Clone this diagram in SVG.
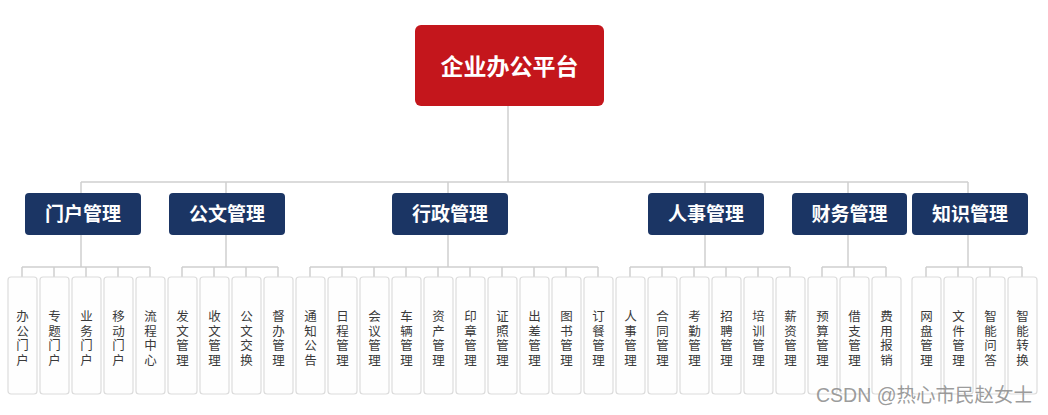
<svg xmlns="http://www.w3.org/2000/svg" width="1048" height="415" viewBox="0 0 1048 415">
<style>
.ln{stroke:#cfcfcf;stroke-width:1.5;fill:none}
.l2 rect{fill:#1b3564}
.l2 text{fill:#fff;font-family:"Noto Sans CJK SC","Noto Sans",sans-serif;font-size:19px;font-weight:bold;text-anchor:middle}
.lf rect{fill:#fefefe;stroke:#dcdcdc;stroke-width:1.2}
.lf text{fill:#3a3a3a;font-family:"Liberation Sans","Noto Sans CJK SC",sans-serif;font-size:12.5px;text-anchor:middle}
</style>
<rect width="1048" height="415" fill="#fff"/>
<g id="connectors" class="ln">
<path d="M508 106V182M81 182H968"/>
<path d="M81 182V193M226 182V193M448 182V193M705 182V193M848 182V193M968 182V193"/>
<path d="M81 235V267M22 267H150M22 267V277M54 267V277M86 267V277M118 267V277M150 267V277"/>
<path d="M226 235V267M182 267H278M182 267V277M214 267V277M246 267V277M278 267V277"/>
<path d="M448 235V267M310 267H598M310 267V277M342 267V277M374 267V277M406 267V277M438 267V277M470 267V277M502 267V277M534 267V277M566 267V277M598 267V277"/>
<path d="M705 235V267M630 267H790M630 267V277M662 267V277M694 267V277M726 267V277M758 267V277M790 267V277"/>
<path d="M848 235V267M822 267H886M822 267V277M854 267V277M886 267V277"/>
<path d="M968 235V267M926 267H1022M926 267V277M958 267V277M990 267V277M1022 267V277"/>
</g>
<g id="root">
<rect x="415" y="25" width="189" height="81" rx="6" fill="#c4161c"/>
<text x="509.5" y="74.5" fill="#fff" font-family="Noto Sans CJK SC,Noto Sans,sans-serif" font-size="23" font-weight="bold" text-anchor="middle">企业办公平台</text>
</g>
<g id="n-menhu" class="l2"><rect x="25" y="193" width="116" height="42" rx="4"/><text x="83" y="221">门户管理</text></g>
<g id="n-gongwen" class="l2"><rect x="169" y="193" width="116" height="42" rx="4"/><text x="227" y="221">公文管理</text></g>
<g id="n-xingzheng" class="l2"><rect x="392" y="193" width="116" height="42" rx="4"/><text x="450" y="221">行政管理</text></g>
<g id="n-renshi" class="l2"><rect x="648" y="193" width="116" height="42" rx="4"/><text x="706" y="221">人事管理</text></g>
<g id="n-caiwu" class="l2"><rect x="792" y="193" width="115" height="42" rx="4"/><text x="849.5" y="221">财务管理</text></g>
<g id="n-zhishi" class="l2"><rect x="912" y="193" width="116" height="42" rx="4"/><text x="970" y="221">知识管理</text></g>

<g id="leaf-1" class="lf"><rect x="8" y="277" width="29" height="117" rx="3"/><text x="22.5" y="321"><tspan x="22.5">办</tspan><tspan x="22.5" dy="14.5">公</tspan><tspan x="22.5" dy="14.5">门</tspan><tspan x="22.5" dy="14.5">户</tspan></text></g>
<g id="leaf-2" class="lf"><rect x="40" y="277" width="29" height="117" rx="3"/><text x="54.5" y="321"><tspan x="54.5">专</tspan><tspan x="54.5" dy="14.5">题</tspan><tspan x="54.5" dy="14.5">门</tspan><tspan x="54.5" dy="14.5">户</tspan></text></g>
<g id="leaf-3" class="lf"><rect x="72" y="277" width="29" height="117" rx="3"/><text x="86.5" y="321"><tspan x="86.5">业</tspan><tspan x="86.5" dy="14.5">务</tspan><tspan x="86.5" dy="14.5">门</tspan><tspan x="86.5" dy="14.5">户</tspan></text></g>
<g id="leaf-4" class="lf"><rect x="104" y="277" width="29" height="117" rx="3"/><text x="118.5" y="321"><tspan x="118.5">移</tspan><tspan x="118.5" dy="14.5">动</tspan><tspan x="118.5" dy="14.5">门</tspan><tspan x="118.5" dy="14.5">户</tspan></text></g>
<g id="leaf-5" class="lf"><rect x="136" y="277" width="29" height="117" rx="3"/><text x="150.5" y="321"><tspan x="150.5">流</tspan><tspan x="150.5" dy="14.5">程</tspan><tspan x="150.5" dy="14.5">中</tspan><tspan x="150.5" dy="14.5">心</tspan></text></g>
<g id="leaf-6" class="lf"><rect x="168" y="277" width="29" height="117" rx="3"/><text x="182.5" y="321"><tspan x="182.5">发</tspan><tspan x="182.5" dy="14.5">文</tspan><tspan x="182.5" dy="14.5">管</tspan><tspan x="182.5" dy="14.5">理</tspan></text></g>
<g id="leaf-7" class="lf"><rect x="200" y="277" width="29" height="117" rx="3"/><text x="214.5" y="321"><tspan x="214.5">收</tspan><tspan x="214.5" dy="14.5">文</tspan><tspan x="214.5" dy="14.5">管</tspan><tspan x="214.5" dy="14.5">理</tspan></text></g>
<g id="leaf-8" class="lf"><rect x="232" y="277" width="29" height="117" rx="3"/><text x="246.5" y="321"><tspan x="246.5">公</tspan><tspan x="246.5" dy="14.5">文</tspan><tspan x="246.5" dy="14.5">交</tspan><tspan x="246.5" dy="14.5">换</tspan></text></g>
<g id="leaf-9" class="lf"><rect x="264" y="277" width="29" height="117" rx="3"/><text x="278.5" y="321"><tspan x="278.5">督</tspan><tspan x="278.5" dy="14.5">办</tspan><tspan x="278.5" dy="14.5">管</tspan><tspan x="278.5" dy="14.5">理</tspan></text></g>
<g id="leaf-10" class="lf"><rect x="296" y="277" width="29" height="117" rx="3"/><text x="310.5" y="321"><tspan x="310.5">通</tspan><tspan x="310.5" dy="14.5">知</tspan><tspan x="310.5" dy="14.5">公</tspan><tspan x="310.5" dy="14.5">告</tspan></text></g>
<g id="leaf-11" class="lf"><rect x="328" y="277" width="29" height="117" rx="3"/><text x="342.5" y="321"><tspan x="342.5">日</tspan><tspan x="342.5" dy="14.5">程</tspan><tspan x="342.5" dy="14.5">管</tspan><tspan x="342.5" dy="14.5">理</tspan></text></g>
<g id="leaf-12" class="lf"><rect x="360" y="277" width="29" height="117" rx="3"/><text x="374.5" y="321"><tspan x="374.5">会</tspan><tspan x="374.5" dy="14.5">议</tspan><tspan x="374.5" dy="14.5">管</tspan><tspan x="374.5" dy="14.5">理</tspan></text></g>
<g id="leaf-13" class="lf"><rect x="392" y="277" width="29" height="117" rx="3"/><text x="406.5" y="321"><tspan x="406.5">车</tspan><tspan x="406.5" dy="14.5">辆</tspan><tspan x="406.5" dy="14.5">管</tspan><tspan x="406.5" dy="14.5">理</tspan></text></g>
<g id="leaf-14" class="lf"><rect x="424" y="277" width="29" height="117" rx="3"/><text x="438.5" y="321"><tspan x="438.5">资</tspan><tspan x="438.5" dy="14.5">产</tspan><tspan x="438.5" dy="14.5">管</tspan><tspan x="438.5" dy="14.5">理</tspan></text></g>
<g id="leaf-15" class="lf"><rect x="456" y="277" width="29" height="117" rx="3"/><text x="470.5" y="321"><tspan x="470.5">印</tspan><tspan x="470.5" dy="14.5">章</tspan><tspan x="470.5" dy="14.5">管</tspan><tspan x="470.5" dy="14.5">理</tspan></text></g>
<g id="leaf-16" class="lf"><rect x="488" y="277" width="29" height="117" rx="3"/><text x="502.5" y="321"><tspan x="502.5">证</tspan><tspan x="502.5" dy="14.5">照</tspan><tspan x="502.5" dy="14.5">管</tspan><tspan x="502.5" dy="14.5">理</tspan></text></g>
<g id="leaf-17" class="lf"><rect x="520" y="277" width="29" height="117" rx="3"/><text x="534.5" y="321"><tspan x="534.5">出</tspan><tspan x="534.5" dy="14.5">差</tspan><tspan x="534.5" dy="14.5">管</tspan><tspan x="534.5" dy="14.5">理</tspan></text></g>
<g id="leaf-18" class="lf"><rect x="552" y="277" width="29" height="117" rx="3"/><text x="566.5" y="321"><tspan x="566.5">图</tspan><tspan x="566.5" dy="14.5">书</tspan><tspan x="566.5" dy="14.5">管</tspan><tspan x="566.5" dy="14.5">理</tspan></text></g>
<g id="leaf-19" class="lf"><rect x="584" y="277" width="29" height="117" rx="3"/><text x="598.5" y="321"><tspan x="598.5">订</tspan><tspan x="598.5" dy="14.5">餐</tspan><tspan x="598.5" dy="14.5">管</tspan><tspan x="598.5" dy="14.5">理</tspan></text></g>
<g id="leaf-20" class="lf"><rect x="616" y="277" width="29" height="117" rx="3"/><text x="630.5" y="321"><tspan x="630.5">人</tspan><tspan x="630.5" dy="14.5">事</tspan><tspan x="630.5" dy="14.5">管</tspan><tspan x="630.5" dy="14.5">理</tspan></text></g>
<g id="leaf-21" class="lf"><rect x="648" y="277" width="29" height="117" rx="3"/><text x="662.5" y="321"><tspan x="662.5">合</tspan><tspan x="662.5" dy="14.5">同</tspan><tspan x="662.5" dy="14.5">管</tspan><tspan x="662.5" dy="14.5">理</tspan></text></g>
<g id="leaf-22" class="lf"><rect x="680" y="277" width="29" height="117" rx="3"/><text x="694.5" y="321"><tspan x="694.5">考</tspan><tspan x="694.5" dy="14.5">勤</tspan><tspan x="694.5" dy="14.5">管</tspan><tspan x="694.5" dy="14.5">理</tspan></text></g>
<g id="leaf-23" class="lf"><rect x="712" y="277" width="29" height="117" rx="3"/><text x="726.5" y="321"><tspan x="726.5">招</tspan><tspan x="726.5" dy="14.5">聘</tspan><tspan x="726.5" dy="14.5">管</tspan><tspan x="726.5" dy="14.5">理</tspan></text></g>
<g id="leaf-24" class="lf"><rect x="744" y="277" width="29" height="117" rx="3"/><text x="758.5" y="321"><tspan x="758.5">培</tspan><tspan x="758.5" dy="14.5">训</tspan><tspan x="758.5" dy="14.5">管</tspan><tspan x="758.5" dy="14.5">理</tspan></text></g>
<g id="leaf-25" class="lf"><rect x="776" y="277" width="29" height="117" rx="3"/><text x="790.5" y="321"><tspan x="790.5">薪</tspan><tspan x="790.5" dy="14.5">资</tspan><tspan x="790.5" dy="14.5">管</tspan><tspan x="790.5" dy="14.5">理</tspan></text></g>
<g id="leaf-26" class="lf"><rect x="808" y="277" width="29" height="117" rx="3"/><text x="822.5" y="321"><tspan x="822.5">预</tspan><tspan x="822.5" dy="14.5">算</tspan><tspan x="822.5" dy="14.5">管</tspan><tspan x="822.5" dy="14.5">理</tspan></text></g>
<g id="leaf-27" class="lf"><rect x="840" y="277" width="29" height="117" rx="3"/><text x="854.5" y="321"><tspan x="854.5">借</tspan><tspan x="854.5" dy="14.5">支</tspan><tspan x="854.5" dy="14.5">管</tspan><tspan x="854.5" dy="14.5">理</tspan></text></g>
<g id="leaf-28" class="lf"><rect x="872" y="277" width="29" height="117" rx="3"/><text x="886.5" y="321"><tspan x="886.5">费</tspan><tspan x="886.5" dy="14.5">用</tspan><tspan x="886.5" dy="14.5">报</tspan><tspan x="886.5" dy="14.5">销</tspan></text></g>
<g id="leaf-29" class="lf"><rect x="912" y="277" width="29" height="117" rx="3"/><text x="926.5" y="321"><tspan x="926.5">网</tspan><tspan x="926.5" dy="14.5">盘</tspan><tspan x="926.5" dy="14.5">管</tspan><tspan x="926.5" dy="14.5">理</tspan></text></g>
<g id="leaf-30" class="lf"><rect x="944" y="277" width="29" height="117" rx="3"/><text x="958.5" y="321"><tspan x="958.5">文</tspan><tspan x="958.5" dy="14.5">件</tspan><tspan x="958.5" dy="14.5">管</tspan><tspan x="958.5" dy="14.5">理</tspan></text></g>
<g id="leaf-31" class="lf"><rect x="976" y="277" width="29" height="117" rx="3"/><text x="990.5" y="321"><tspan x="990.5">智</tspan><tspan x="990.5" dy="14.5">能</tspan><tspan x="990.5" dy="14.5">问</tspan><tspan x="990.5" dy="14.5">答</tspan></text></g>
<g id="leaf-32" class="lf"><rect x="1008" y="277" width="29" height="117" rx="3"/><text x="1022.5" y="321"><tspan x="1022.5">智</tspan><tspan x="1022.5" dy="14.5">能</tspan><tspan x="1022.5" dy="14.5">转</tspan><tspan x="1022.5" dy="14.5">换</tspan></text></g>

<text x="1033" y="402" fill="#8a8a8a" fill-opacity="0.85" font-family="Liberation Sans,Noto Sans CJK SC,sans-serif" font-size="19.5" text-anchor="end">CSDN @热心市民赵女士</text>
</svg>
